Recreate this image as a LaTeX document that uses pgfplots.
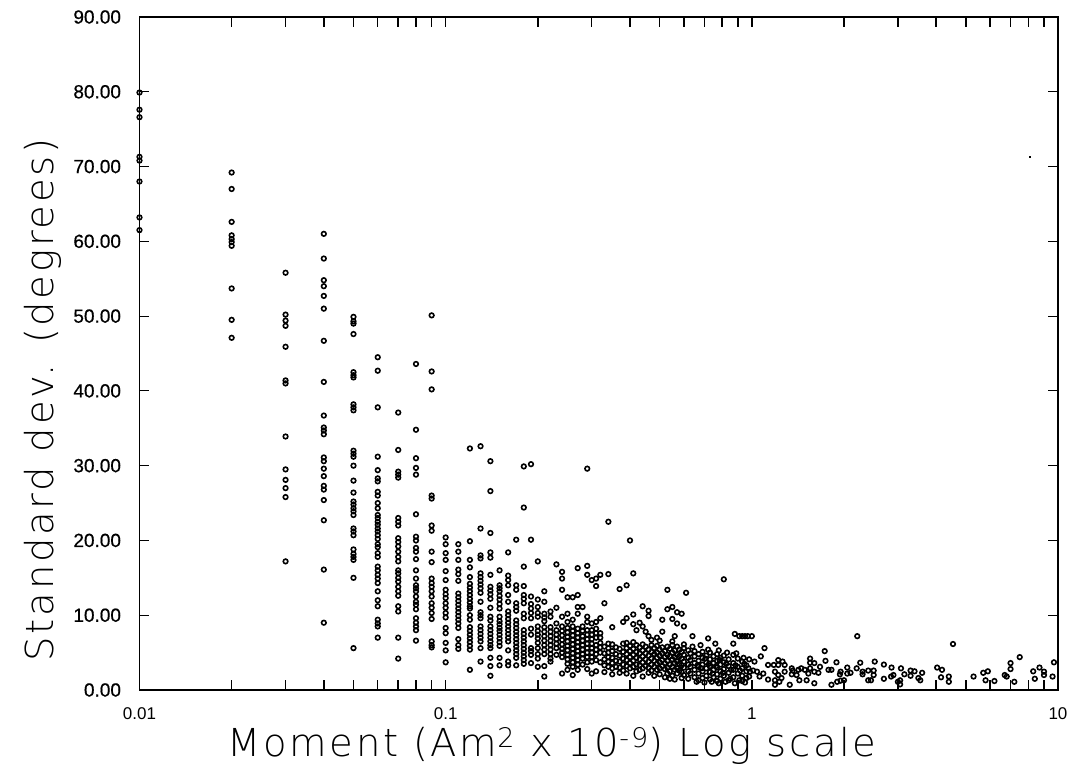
\documentclass[border=0pt]{standalone}
\usepackage{pgfplots}
\pgfplotsset{compat=1.18}
\usepackage{fontspec}
\setmainfont{Liberation Sans}
\newfontfamily\lblfont[LetterSpace=7]{DejaVu Sans ExtraLight}
\newfontfamily\numfont[FakeBold=0.6]{Liberation Sans}
\begin{document}
\begin{tikzpicture}
\begin{axis}[
 scale only axis, width=918.5pt, height=673pt,
 xmode=log, xmin=0.01, xmax=10, ymin=0, ymax=90,
 axis line style={line width=1.5pt}, 
 xtick={0.01,0.1,1,10}, xticklabels={0.01,0.1,1,10},
 minor xtick={0.02,0.03,0.04,0.05,0.06,0.07,0.08,0.09,0.2,0.3,0.4,0.5,0.6,0.7,0.8,0.9,2,3,4,5,6,7,8,9},
 ytick={0,10,20,30,40,50,60,70,80,90},
 tick align=inside, tick pos=both,
 major tick length=10pt, minor tick length=10pt,
 tick style={black,line width=1.2pt},
 minor tick style={black,line width=1.2pt},
 /pgf/number format/assume math mode=true,
 y tick label style={font=\fontsize{19}{19}\selectfont\numfont, xshift=-15pt, /pgf/number format/.cd, fixed, fixed zerofill, precision=2},
 x tick label style={font=\fontsize{17}{17}\selectfont, yshift=-14pt},
 clip=false,
]
\path[use as bounding box] (rel axis cs:0,0) ++(-139.5pt,-84pt) rectangle ++(1077pt,774pt);
\addplot[only marks, mark=o, mark size=2.3pt, mark options={line width=1.6pt,draw=black,fill=none,solid}] coordinates {
(0.01,79.9)(0.01,77.6)(0.01,76.6)(0.01,71.3)(0.01,70.8)(0.01,68)(0.01,63.2)(0.01,61.5)
(0.02,69.2)(0.02,67)(0.02,62.6)(0.02,60.8)(0.02,60.3)(0.02,59.9)(0.02,59.4)(0.02,53.7)(0.02,49.5)(0.02,47.1)
(0.03,55.8)(0.03,50.2)(0.03,49.4)(0.03,48.7)(0.03,45.9)(0.03,41.4)(0.03,41)(0.03,33.9)(0.03,29.5)(0.03,28.1)(0.03,27)(0.03,25.8)(0.03,17.2)
(0.04,61)(0.04,57.7)(0.04,54.8)(0.04,54)(0.04,52.7)(0.04,51)(0.04,46.7)(0.04,41.2)(0.04,36.7)(0.04,35.1)(0.04,34.7)(0.04,34.2)(0.04,31.1)(0.04,30.6)(0.04,29.6)(0.04,28.6)(0.04,27.3)(0.04,26.8)(0.04,25.4)(0.04,22.7)(0.04,16.1)(0.04,9)
(0.05,49.9)(0.05,49.3)(0.05,49)(0.05,47.6)(0.05,42.5)(0.05,42.1)(0.05,41.8)(0.05,38.2)(0.05,37.8)(0.05,37.4)(0.05,32)(0.05,31.6)(0.05,31.2)(0.05,30)(0.05,28)(0.05,26.4)(0.05,25.2)(0.05,24.8)(0.05,24.3)(0.05,23.9)(0.05,23.4)(0.05,21.6)(0.05,21.2)(0.05,20.7)(0.05,18.8)(0.05,18.2)(0.05,17.8)(0.05,17.4)(0.05,15)(0.05,5.6)
(0.06,44.5)(0.06,42.7)(0.06,37.8)(0.06,31.2)(0.06,29.4)(0.06,28.3)(0.06,27.9)(0.06,26.5)(0.06,26)(0.06,25)(0.06,24.3)(0.06,23.4)(0.06,23)(0.06,22.5)(0.06,22.1)(0.06,21.6)(0.06,21.2)(0.06,20.7)(0.06,20.2)(0.06,19.5)(0.06,19.1)(0.06,18.3)(0.06,17.8)(0.06,16.5)(0.06,16)(0.06,15.4)(0.06,14.9)(0.06,14.3)(0.06,13.2)(0.06,12)(0.06,11.2)(0.06,9.4)(0.06,8.9)(0.06,8.5)(0.06,7)
(0.07,37.1)(0.07,32.1)(0.07,29.2)(0.07,28.8)(0.07,28.4)(0.07,23)(0.07,22.5)(0.07,22)(0.07,20.3)(0.07,19.8)(0.07,19.2)(0.07,18.5)(0.07,17.8)(0.07,17.2)(0.07,16)(0.07,15.6)(0.07,15)(0.07,14.5)(0.07,13.8)(0.07,13.2)(0.07,12.6)(0.07,11.2)(0.07,10.5)(0.07,7)(0.07,4.2)
(0.08,43.6)(0.08,34.8)(0.08,31)(0.08,29.7)(0.08,28.8)(0.08,23.5)(0.08,20.5)(0.08,20)(0.08,19)(0.08,18.5)(0.08,17.5)(0.08,16)(0.08,14.9)(0.08,14)(0.08,13.6)(0.08,13.2)(0.08,12.5)(0.08,11.8)(0.08,11.4)(0.08,10.8)(0.08,9.6)(0.08,9)(0.08,8.5)(0.08,8)(0.08,6.6)
(0.09,50.1)(0.09,42.6)(0.09,40.2)(0.09,26)(0.09,25.6)(0.09,22)(0.09,21.3)(0.09,18.5)(0.09,17.1)(0.09,14.9)(0.09,14.3)(0.09,13.8)(0.09,13.2)(0.09,12.5)(0.09,11.6)(0.09,11)(0.09,10.3)(0.09,9.5)(0.09,6.5)(0.09,6)(0.09,5.7)
(0.1,20.4)(0.1,19.5)(0.1,18.3)(0.1,17.4)(0.1,15.9)(0.1,14.7)(0.1,13.4)(0.1,12.8)(0.1,12.3)(0.1,11.6)(0.1,11)(0.1,10.3)(0.1,9.7)(0.1,8.3)(0.1,7.6)(0.1,6.3)(0.1,5.3)(0.1,3.7)
(0.11,19.5)(0.11,18.5)(0.11,17.4)(0.11,16.1)(0.11,15.5)(0.11,14.6)(0.11,12.9)(0.11,12.4)(0.11,11.9)(0.11,11.4)(0.11,10.9)(0.11,10.4)(0.11,9.9)(0.11,9.4)(0.11,8.9)(0.11,8.3)(0.11,6.8)(0.11,6)(0.11,5.5)
(0.12,32.3)(0.12,19.9)(0.12,17.4)(0.12,16.4)(0.12,15.1)(0.12,14.2)(0.12,13.7)(0.12,13.2)(0.12,12.7)(0.12,12.2)(0.12,11.7)(0.12,11.2)(0.12,10.9)(0.12,10)(0.12,9.4)(0.12,8.4)(0.12,7.9)(0.12,7.4)(0.12,6.9)(0.12,6.4)(0.12,5.9)(0.12,5.4)(0.12,2.7)
(0.13,32.6)(0.13,21.6)(0.13,18)(0.13,17.6)(0.13,15.6)(0.13,15.1)(0.13,14.6)(0.13,14.1)(0.13,13.6)(0.13,13)(0.13,11.8)(0.13,10.4)(0.13,10)(0.13,9.6)(0.13,8.5)(0.13,8)(0.13,7.5)(0.13,7)(0.13,6.5)(0.13,5.6)(0.13,3.8)
(0.14,30.6)(0.14,26.6)(0.14,21)(0.14,18.4)(0.14,17.7)(0.14,15.4)(0.14,13.8)(0.14,13.3)(0.14,12.8)(0.14,12.2)(0.14,11)(0.14,9.8)(0.14,9.3)(0.14,8.5)(0.14,8)(0.14,7.5)(0.14,7)(0.14,6.5)(0.14,6)(0.14,5.6)(0.14,4.3)(0.14,3.2)(0.14,1.9)
(0.15,16)(0.15,14)(0.15,13.6)(0.15,13.2)(0.15,12.6)(0.15,12.1)(0.15,11.5)(0.15,10.9)(0.15,9.8)(0.15,9.2)(0.15,8.8)(0.15,8.3)(0.15,7.9)(0.15,7.4)(0.15,6.9)(0.15,6.4)(0.15,5.9)(0.15,4.3)(0.15,3.3)
(0.16,18.4)(0.16,15.3)(0.16,14.7)(0.16,14)(0.16,12.7)(0.16,11.8)(0.16,10.5)(0.16,10)(0.16,9.5)(0.16,9)(0.16,8.5)(0.16,8)(0.16,7.5)(0.16,7)(0.16,6.5)(0.16,5.3)(0.16,3.8)(0.16,3.3)
(0.17,20.1)(0.17,14)(0.17,13.4)(0.17,11.6)(0.17,11.1)(0.17,10.6)(0.17,9.3)(0.17,8.8)(0.17,8.3)(0.17,7.8)(0.17,7.3)(0.17,6.8)(0.17,6.3)(0.17,5.8)(0.17,5.3)(0.17,4.8)(0.17,4.3)(0.17,3.3)
(0.18,29.9)(0.18,24.4)(0.18,16.5)(0.18,13.9)(0.18,12.7)(0.18,12.2)(0.18,11.6)(0.18,10.2)(0.18,9.6)(0.18,8)(0.18,7.5)(0.18,7)(0.18,6.5)(0.18,6)(0.18,5.5)(0.18,5)(0.18,4.5)(0.18,4)(0.18,3.5)
(0.19,30.2)(0.19,20.1)(0.19,12.5)(0.19,11.5)(0.19,10.9)(0.19,10.3)(0.19,9.6)(0.19,8.2)(0.19,7.4)(0.19,5.6)(0.19,5.2)(0.19,4.7)(0.19,3.6)
(0.2,17.2)(0.2,12.1)(0.2,11.1)(0.2,10.3)(0.2,9.8)(0.2,8.5)(0.2,7.9)(0.2,7.4)(0.2,6.9)(0.2,6.3)(0.2,5.6)(0.2,4.8)(0.2,4.2)(0.2,3.1)
};
\addplot[only marks, mark=o, mark size=2.3pt, mark options={line width=1.6pt,draw=black,fill=none,solid}] coordinates {
(0.21,13.2)(0.21,11.8)(0.21,10.2)(0.21,9.7)(0.21,9.2)(0.21,8.4)(0.21,7.8)(0.21,7.2)(0.21,6.6)(0.21,6)(0.21,5.4)(0.21,4.8)(0.21,3.2)(0.21,1.8)
(0.22,10.5)(0.22,9.8)(0.22,8.4)(0.22,7.8)(0.22,7.2)(0.22,6.6)(0.22,6)(0.22,5.4)(0.22,4.8)(0.22,4.2)(0.22,3.8)
(0.23,16.8)(0.23,11)(0.23,8.9)(0.23,8)(0.23,7.4)(0.23,6.8)(0.23,6.2)(0.23,5.6)(0.23,4.7)
(0.24,15.8)(0.24,14.9)(0.24,13.4)(0.24,9.8)(0.24,8.5)(0.24,7.9)(0.24,7.3)(0.24,6.7)(0.24,6.1)(0.24,5.5)(0.24,5)(0.24,4.4)(0.24,2.2)
(0.25,12.4)(0.25,10.2)(0.25,9.1)(0.25,8.3)(0.25,7.7)(0.25,7.1)(0.25,6.5)(0.25,5.9)(0.25,5.3)(0.25,4.7)(0.25,4.1)(0.25,3.5)(0.25,2.7)
(0.26,12.4)(0.26,9.4)(0.26,8.5)(0.26,7.9)(0.26,7.3)(0.26,6.7)(0.26,6.1)(0.26,5.5)(0.26,4.9)(0.26,4.3)(0.26,3.7)(0.26,3.1)(0.26,2)
(0.27,16.3)(0.27,12.7)(0.27,11.1)(0.27,10.2)(0.27,8.2)(0.27,7.6)(0.27,7)(0.27,6.4)(0.27,5.8)(0.27,5.2)(0.27,4.6)(0.27,4)(0.27,3.4)(0.27,2.7)
(0.28,11.1)(0.28,8.5)(0.28,7.9)(0.28,7.2)(0.28,6.6)(0.28,6)(0.28,5.4)(0.28,4.8)(0.28,4.2)(0.28,3.4)
(0.29,29.6)(0.29,16.6)(0.29,15.4)(0.29,9.8)(0.29,9.1)(0.29,8)(0.29,7.4)(0.29,6.8)(0.29,6.2)(0.29,5.6)(0.29,5)(0.29,4.4)(0.29,3.7)(0.29,2.8)
(0.3,14.7)(0.3,8.9)(0.3,8)(0.3,7.4)(0.3,6.8)(0.3,6.2)(0.3,5.6)(0.3,5)(0.3,4.4)(0.3,3.8)(0.3,2.2)
(0.31,14.9)(0.31,13.9)(0.31,9.1)(0.31,8.2)(0.31,7.6)(0.31,7)(0.31,6)(0.31,5.4)(0.31,4.8)(0.31,4)(0.31,2.5)
(0.32,15.4)(0.32,9.6)(0.32,7.6)(0.32,7)(0.32,6.3)(0.32,5.7)(0.32,5)(0.32,3.7)
(0.34,22.5)(0.34,15.5)(0.34,6.2)(0.34,5.6)(0.34,5)(0.34,4.4)(0.34,3.8)(0.34,3.1)
(0.4,20)(0.41,15.6)(0.37,13.5)(0.39,14)(0.53,13.4)(0.61,13)(0.81,14.8)(0.33,11.6)(0.44,11.2)(0.46,10.6)(0.46,9.9)(0.53,10.8)(0.55,11.1)(0.57,10.4)(0.59,10.2)(0.51,9.4)(0.55,9.5)(0.57,8.9)(0.6,8.5)(0.41,10.1)(0.39,9.6)(0.38,9.1)(0.35,8.4)(0.41,8.8)(0.43,9)(0.44,8.5)(0.42,8)(0.45,7.8)(0.46,7.2)(0.49,7)(0.51,7.8)(0.56,7.2)(0.64,7.2)(0.72,6.9)(0.76,6.2)(0.87,6.2)(0.88,7.5)(0.91,7.2)(0.93,7.2)(0.95,7.2)(0.97,7.2)(1.0,7.2)
(0.33,5.8)(0.33,4.9)(0.33,4.1)(0.33,3.3)(0.33,2.4)(0.35,6.1)(0.35,5.2)(0.35,4.3)(0.35,3.6)(0.35,2.9)(0.35,2.1)(0.36,5.7)(0.36,4.8)(0.36,3.9)(0.36,3.1)(0.37,5.5)(0.37,4.6)(0.37,3.8)(0.37,3)(0.37,2.3)(0.38,6.2)(0.38,5.1)(0.38,4.2)(0.38,3.4)(0.38,2.6)
(0.39,6.3)(0.39,5.6)(0.39,4.8)(0.39,4)(0.39,3.2)(0.39,2.2)(0.4,5.9)(0.4,5.2)(0.4,4.4)(0.4,3.6)(0.4,2.9)(0.41,6.4)(0.41,5.5)(0.41,4.7)(0.41,3.9)(0.41,3.1)(0.41,1.9)(0.42,6)(0.42,5.1)(0.42,4.3)(0.42,3.4)(0.42,2.5)(0.43,5.7)(0.43,4.9)(0.43,4.1)(0.43,3.3)(0.43,2.7)
(0.44,6.1)(0.44,5.3)(0.44,4.5)(0.44,3.7)(0.44,2.9)(0.44,1.8)(0.45,5.8)(0.45,4.9)(0.45,4.1)(0.45,3.2)(0.46,5.4)(0.46,4.6)(0.46,3.8)(0.46,3)(0.46,2.3)(0.47,6)(0.47,5.1)(0.47,4.2)(0.47,3.4)(0.47,2.6)(0.48,5.6)(0.48,4.8)(0.48,3.9)(0.48,3.1)(0.48,1.9)
};
\addplot[only marks, mark=o, mark size=2.3pt, mark options={line width=1.6pt,draw=black,fill=none,solid}] coordinates {
(0.49,5.9)(0.49,5)(0.49,4.3)(0.49,3.5)(0.49,2.7)(0.5,5.4)(0.5,4.6)(0.5,3.7)(0.5,2.9)(0.5,2.1)(0.51,5.7)(0.51,4.9)(0.51,4)(0.51,3.2)(0.52,5.2)(0.52,4.4)(0.52,3.6)(0.52,2.8)(0.52,1.7)(0.53,5.8)(0.53,4.7)(0.53,3.9)(0.53,3)(0.53,2.2)
(0.54,5.5)(0.54,4.5)(0.54,3.4)(0.54,2.5)(0.54,1.5)(0.55,6)(0.55,5)(0.55,4.1)(0.55,3.1)(0.55,1.9)(0.56,5.3)(0.56,4.4)(0.56,3.6)(0.56,2.7)(0.56,1.4)(0.57,5.8)(0.57,4.7)(0.57,3.8)(0.57,2.9)(0.57,2.2)
(0.58,5.4)(0.58,4.5)(0.58,3.5)(0.58,2.6)(0.59,5.1)(0.59,4.2)(0.59,3.3)(0.59,2.4)(0.59,1.6)(0.6,5.6)(0.6,4.7)(0.6,3.8)(0.6,3)(0.6,2)(0.62,5.3)(0.62,4.3)(0.62,3.4)(0.62,2.5)(0.62,1.5)(0.63,4.9)(0.63,4)(0.63,3.1)(0.63,2.2)
(0.65,5.2)(0.65,4.5)(0.65,3.6)(0.65,2.7)(0.65,1.7)(0.67,4.8)(0.67,3.9)(0.67,3.1)(0.67,2.2)(0.67,1.3)(0.69,5.1)(0.69,4.3)(0.69,3.4)(0.69,2.5)(0.69,1.6)(0.71,4.6)(0.71,3.7)(0.71,2.9)(0.71,1.9)(0.73,5)(0.73,4.1)(0.73,3.2)(0.73,2.4)(0.73,1.4)
(0.75,4.5)(0.75,3.6)(0.75,2.7)(0.75,1.7)(0.77,4.8)(0.77,3.9)(0.77,3)(0.77,2.1)(0.77,1.2)(0.79,4.3)(0.79,3.4)(0.79,2.5)(0.79,1.5)(0.81,4.6)(0.81,3.7)(0.81,2.8)(0.81,1.9)(0.84,4.1)(0.84,3.2)(0.84,2.3)(0.84,1.3)
(0.87,4.7)(0.87,3.6)(0.87,2.7)(0.87,1.7)(0.9,4.2)(0.9,3.1)(0.9,2.2)(0.93,3.8)(0.93,2.9)(0.93,1.9)(0.93,1.2)(0.96,3.3)(0.96,2.5)(0.96,1.6)
(0.66,1.1)(0.7,1)(0.74,1.1)(0.78,0.9)(0.82,1.1)(0.85,1.5)(0.88,0.9)(0.91,1.3)(0.95,1)(0.98,1.8)(0.72,5.4)(0.78,5.3)(0.83,5)(0.89,4.9)(0.94,4.3)(0.98,4.1)(0.64,5.8)(0.68,6)(0.6,6.1)(0.55,6.5)(0.5,6.6)(0.47,6.7)(0.665,3.3)(0.685,2.9)(0.705,4.2)(0.725,3.5)(0.745,2.2)(0.765,3.2)(0.785,4)(0.805,2.3)(0.825,3.5)(0.855,2.7)(0.885,3.3)(0.915,2.6)(0.945,3.5)(0.975,2.9)
(1.10,5.6)(1.07,4.5)(1.02,3.8)(1.73,5.2)(1.74,3.9)(1.55,4.2)(1.55,3.65)(1.60,3.6)(1.89,3.7)(2.26,3.65)(2.52,3.8)(2.70,3.4)(2.86,3.0)(3.07,2.9)(4.03,3.0)(4.18,2.7)(7.5,4.4)(7.0,3.6)(7.0,2.8)(9.7,3.7)(8.7,3)(8.3,2.5)(9,2.45)(9,2)(9.6,1.8)(8.4,1.5)(7.2,1.1)(6.8,1.8)(6.7,2)(6.2,1.2)(5.8,1.3)(5.9,2.5)(5.7,2.3)(5.3,1.8)(4.4,1.8)(4.4,1.1)(4.15,1.7)(3.6,2.3)(3.4,2.5)(3.3,2.6)(3.3,1.9)(3.5,1.6)(3.55,1.3)(3.15,2.1)(3.05,1.3)(3,1.1)(3.05,0.75)(2.9,2)(2.85,1.8)(2.7,1.5)(2.5,2.6)(2.5,2)(2.4,2.6)(2.3,2.45)(2.2,2.9)(2.3,2.1)(2.4,1.3)(2.45,1.3)(2.1,2.3)(2.05,3)(2.05,2.2)(1.95,2.45)(1.94,2.1)(2,1.3)(1.95,1.25)(1.9,1.1)(1.82,2.7)(1.78,2.7)(1.82,0.7)(1.6,0.9)(1.33,0.7)(1.19,0.7)(1.65,2.3)(1.6,2.45)(1.67,3.1)(1.55,2.9)(1.53,2.2)(1.49,2.7)(1.45,2.9)(1.42,2.7)(1.35,2.9)(1.36,2.6)(1.51,1.3)(1.43,1.3)(1.4,2)(1.35,2.1)(1.28,2.45)(1.28,3.35)(1.26,3.8)(1.22,4)(1.22,3.35)(1.18,3.35)(1.13,3.35)(1.19,2.45)(1.22,2)(1.25,1.6)(1.23,1.1)(1.19,1.3)(1.13,1.4)(1.09,2.2)(1.06,1.8)(1.04,2.45)(1.01,2.6)(0.986,2.45)
(2.21,7.2)(4.54,6.15)
};
\addplot[only marks,mark=*,mark size=0.8pt,mark options={draw=black,fill=black,line width=0pt}] coordinates {(8.1,71.3)};
\pgfplotsinvokeforeach{0.02,0.03,0.04,0.05,0.06,0.07,0.08,0.09,0.1,0.2,0.3,0.4,0.5,0.6,0.7,0.8,0.9,1,2,3,4,5,6,7,8,9}{
 \draw[black,line width=1.5pt] (axis cs:#1,0) -- ++(0pt,10pt);
 \draw[black,line width=1.5pt] (axis cs:#1,90) -- ++(0pt,-10pt);
}
\node[anchor=north,inner sep=0pt,yshift=-37pt,font=\fontsize{38.5}{38.5}\selectfont\lblfont] at (rel axis cs:0.449,0) {Moment (Am\textsuperscript{2} x 10\textsuperscript{-9}) Log scale};
\node[rotate=90,anchor=south,inner sep=0pt,yshift=78pt,font=\fontsize{38.5}{38.5}\selectfont\lblfont] at (rel axis cs:0,0.431) {Standard dev. (degrees)};
\end{axis}
\end{tikzpicture}
\end{document}
